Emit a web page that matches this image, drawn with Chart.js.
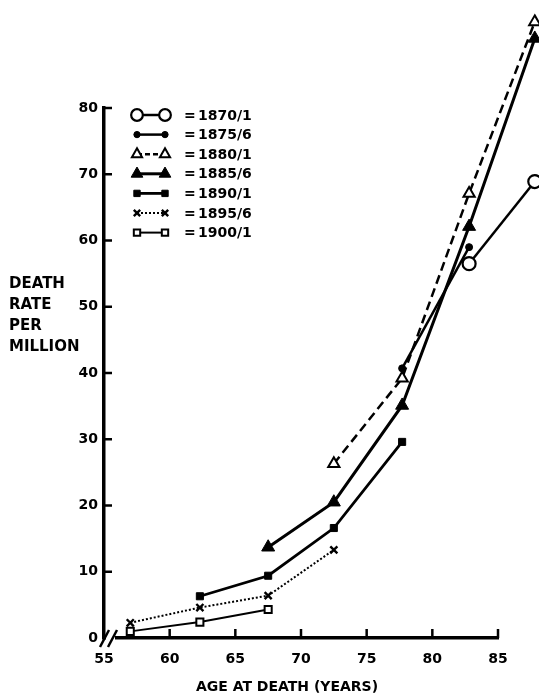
<!DOCTYPE html>
<html>
<head>
<meta charset="utf-8">
<script src="https://cdn.jsdelivr.net/npm/chart.js@4"></script>
<style>
html,body{margin:0;padding:0;background:#fff;}
#wrap{width:539px;height:698px;}
</style>
</head>
<body>
<div id="wrap"><canvas id="c" width="539" height="698"></canvas></div>
<script>
// ---- data ----
const ages = [57, 62.3, 67.5, 72.5, 77.7, 82.8, 87.8];
const labels = ['1870/1', '1875/6', '1880/1', '1885/6', '1890/1', '1895/6', '1900/1'];
const s1870 = [null, null, null, null, null, 56.5, 68.9];
const s1875 = [null, null, null, null, 40.7, 59.0, null];
const s1880 = [null, null, null, 26.3, 39.2, 67.1, 93.0];
const s1885 = [null, null, 13.7, 20.5, 35.1, 62.1, 90.5];
const s1890 = [null, 6.3, 9.4, 16.6, 29.6, null, null];
const s1895 = [2.3, 4.6, 6.4, 13.3, null, null, null];
const s1900 = [1.0, 2.4, 4.3, null, null, null, null];
const xTicks = [55, 60, 65, 70, 75, 80, 85];
const yTicks = [0, 10, 20, 30, 40, 50, 60, 70, 80];
const yTitle = ['DEATH', 'RATE', 'PER', 'MILLION'];
const xTitle = 'AGE AT DEATH (YEARS)';

function pts(arr) {
  const out = [];
  arr.forEach((v, i) => { if (v !== null) out.push({x: ages[i], y: v}); });
  return out;
}

const styles = [
  {pointStyle: 'circle', radius: 6.5, bg: '#fff', dash: [], bw: 2.2, lw: 2.5},
  {pointStyle: 'circle', radius: 3.5, bg: '#000', dash: [], bw: 1, lw: 2.5},
  {pointStyle: 'triangle', radius: 6.5, bg: '#fff', dash: [9, 5], bw: 2, lw: 2.5},
  {pointStyle: 'triangle', radius: 7.5, bg: '#000', dash: [], bw: 1, lw: 3},
  {pointStyle: 'rect', radius: 5, bg: '#000', dash: [], bw: 1, lw: 2.8},
  {pointStyle: 'crossRot', radius: 5, bg: '#000', dash: [2, 2], bw: 2.4, lw: 2},
  {pointStyle: 'rect', radius: 5, bg: '#fff', dash: [], bw: 2, lw: 2}
];
const series = [s1870, s1875, s1880, s1885, s1890, s1895, s1900];

const datasets = series.map((s, i) => ({
  label: labels[i],
  data: pts(s),
  borderColor: '#000',
  borderWidth: styles[i].lw,
  borderDash: styles[i].dash,
  backgroundColor: styles[i].bg,
  pointStyle: styles[i].pointStyle,
  pointRadius: styles[i].radius,
  pointBackgroundColor: styles[i].bg,
  pointBorderColor: '#000',
  pointBorderWidth: styles[i].bw,
  tension: 0,
  clip: false
}));

const FONT = "'DejaVu Sans', sans-serif";

// let points outside the axis range (beyond 85 / above 80) be drawn
const unclip = {
  id: 'unclip',
  beforeDatasetsDraw(chart) {
    chart._savedArea = chart.chartArea;
    const a = chart.chartArea;
    chart.chartArea = {left: 0, top: 0, right: chart.width, bottom: chart.height,
      width: chart.width, height: chart.height};
  },
  afterDatasetsDraw(chart) {
    if (chart._savedArea) chart.chartArea = chart._savedArea;
  }
};

const decor = {
  id: 'decor',
  afterDraw(chart) {
    const ctx = chart.ctx;
    const xs = chart.scales.x, ys = chart.scales.y;
    const a = chart.chartArea;
    ctx.save();
    ctx.strokeStyle = '#000';
    ctx.lineWidth = 2.5;
    // inward ticks
    yTicks.forEach(v => {
      if (v === 0) return;
      const py = ys.getPixelForValue(v);
      ctx.beginPath(); ctx.moveTo(a.left, py); ctx.lineTo(a.left + 8, py); ctx.stroke();
    });
    xTicks.forEach(v => {
      if (v === 55) return;
      const px = xs.getPixelForValue(v);
      ctx.beginPath(); ctx.moveTo(px, a.bottom); ctx.lineTo(px, a.bottom - 9); ctx.stroke();
    });
    // axis break
    ctx.fillStyle = '#fff';
    ctx.fillRect(a.left + 2, a.bottom - 3, 9, 6);
    ctx.lineWidth = 2.5;
    ctx.beginPath(); ctx.moveTo(a.left - 4, a.bottom + 9); ctx.lineTo(a.left + 5, a.bottom - 8); ctx.stroke();
    ctx.beginPath(); ctx.moveTo(a.left + 4, a.bottom + 9); ctx.lineTo(a.left + 13, a.bottom - 8); ctx.stroke();

    // legend
    chart.data.datasets.forEach((ds, i) => {
      const y = a.top + 7 + i * 19.6;
      const x1 = a.left + 33, x2 = a.left + 61;
      ctx.save();
      ctx.strokeStyle = '#000';
      ctx.lineWidth = ds.borderWidth;
      ctx.setLineDash(ds.borderDash.length ? (ds.borderDash[0] > 3 ? [5, 3] : [2, 2]) : []);
      ctx.beginPath(); ctx.moveTo(x1, y); ctx.lineTo(x2, y); ctx.stroke();
      ctx.setLineDash([]);
      const r = ds.pointRadius * 0.9;
      [x1, x2].forEach(px => {
        ctx.fillStyle = ds.pointBackgroundColor;
        ctx.strokeStyle = '#000';
        ctx.lineWidth = ds.pointBorderWidth;
        Chart.helpers.drawPoint(ctx, {pointStyle: ds.pointStyle, radius: r, borderWidth: ds.pointBorderWidth, rotation: 0}, px, y);
      });
      ctx.restore();
      ctx.fillStyle = '#000';
      ctx.font = 'bold 14px ' + FONT;
      ctx.textBaseline = 'middle';
      ctx.textAlign = 'left';
      ctx.fillText('=', a.left + 80, y + 1);
      ctx.fillText(ds.label, a.left + 94, y + 1);
    });

    // y title (horizontal, stacked)
    ctx.fillStyle = '#000';
    ctx.font = 'bold 15px ' + FONT;
    ctx.textAlign = 'left';
    ctx.textBaseline = 'middle';
    yTitle.forEach((t, i) => ctx.fillText(t, 9, 284 + i * 21));
    // x title
    ctx.font = 'bold 14px ' + FONT;
    ctx.textAlign = 'center';
    ctx.fillText(xTitle, 287, 687);
    ctx.restore();
  }
};

new Chart(document.getElementById('c'), {
  type: 'line',
  data: {datasets},
  options: {
    responsive: false,
    animation: false,
    layout: {padding: {left: 0, right: 41, top: 108, bottom: 0}},
    plugins: {legend: {display: false}, tooltip: {enabled: false}},
    scales: {
      x: {
        type: 'linear', min: 55, max: 85,
        afterFit(s) { s.height = 60; },
        afterBuildTicks(s) { s.ticks = xTicks.map(v => ({value: v})); },
        grid: {display: true, drawOnChartArea: false, drawTicks: false, color: '#000'},
        border: {display: true, color: '#000', width: 3.5},
        ticks: {color: '#000', padding: 13, font: {family: FONT, size: 14, weight: 'bold'}, maxRotation: 0, autoSkip: false}
      },
      y: {
        type: 'linear', min: 0, max: 80,
        afterFit(s) { s.width = 104; },
        afterBuildTicks(s) { s.ticks = yTicks.map(v => ({value: v})); },
        grid: {display: true, drawOnChartArea: false, drawTicks: false, color: '#000'},
        border: {display: true, color: '#000', width: 3.5},
        ticks: {color: '#000', padding: 6, font: {family: FONT, size: 14, weight: 'bold'}, autoSkip: false}
      }
    }
  },
  plugins: [unclip, decor]
});
</script>
</body>
</html>
